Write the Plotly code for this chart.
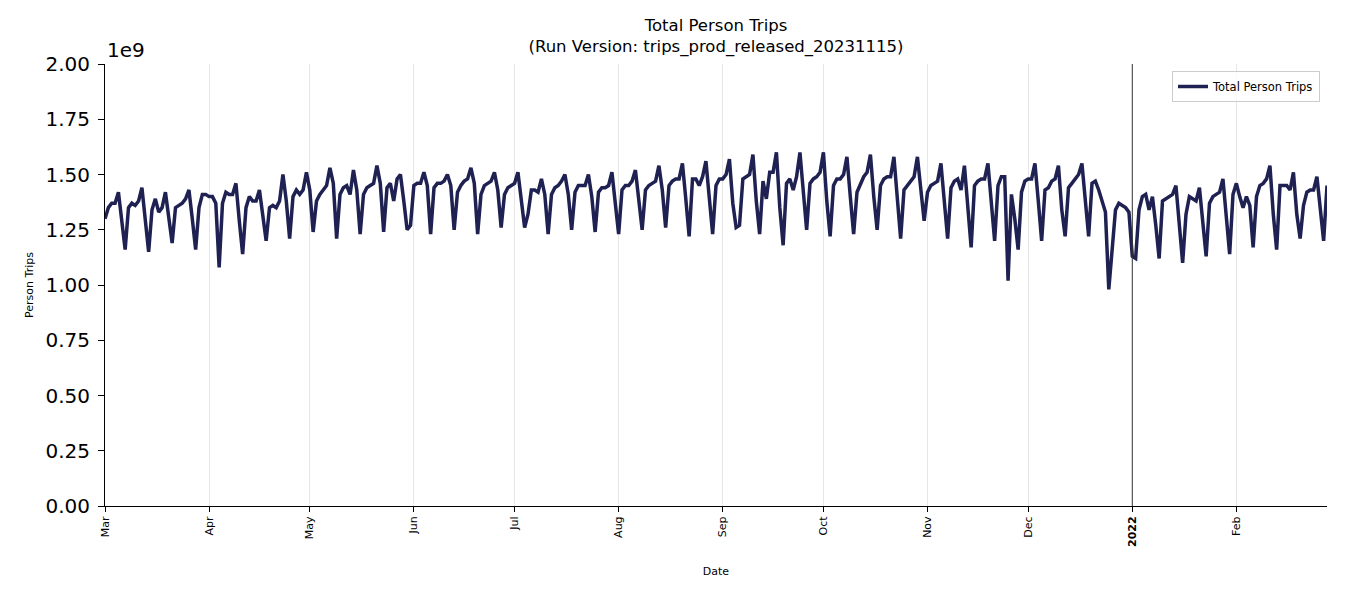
import pandas as pd
import plotly.graph_objects as go

# Daily Total Person Trips (in billions), Mar 2021 - Feb 2022
mar_2021 = [1.30, 1.35, 1.37, 1.37, 1.42, 1.30, 1.16, 1.35, 1.37, 1.36, 1.38, 1.44, 1.30, 1.15,
            1.34, 1.39, 1.33, 1.35, 1.42, 1.31, 1.19, 1.35, 1.36, 1.37, 1.39, 1.43, 1.30, 1.16,
            1.35, 1.41, 1.41]
apr_2021 = [1.40, 1.40, 1.37, 1.08, 1.37, 1.42, 1.41, 1.41, 1.46, 1.29, 1.14, 1.35, 1.40, 1.38,
            1.38, 1.43, 1.32, 1.20, 1.35, 1.36, 1.35, 1.38, 1.50, 1.38, 1.21, 1.40, 1.43, 1.41,
            1.43, 1.51]
may_2021 = [1.43, 1.24, 1.38, 1.41, 1.43, 1.45, 1.53, 1.46, 1.21, 1.41, 1.44, 1.45, 1.41, 1.52,
            1.43, 1.23, 1.41, 1.44, 1.45, 1.46, 1.54, 1.46, 1.24, 1.44, 1.46, 1.38, 1.48, 1.50,
            1.38, 1.25, 1.27]
jun_2021 = [1.45, 1.46, 1.46, 1.51, 1.45, 1.23, 1.44, 1.46, 1.46, 1.47, 1.50, 1.45, 1.25, 1.42,
            1.45, 1.47, 1.48, 1.53, 1.46, 1.23, 1.41, 1.45, 1.46, 1.47, 1.51, 1.43, 1.26, 1.41,
            1.44, 1.45]
jul_2021 = [1.46, 1.51, 1.38, 1.26, 1.32, 1.43, 1.43, 1.42, 1.48, 1.41, 1.23, 1.41, 1.44, 1.45,
            1.47, 1.50, 1.41, 1.25, 1.42, 1.45, 1.45, 1.45, 1.50, 1.40, 1.24, 1.42, 1.44, 1.44,
            1.45, 1.51, 1.37]
aug_2021 = [1.23, 1.43, 1.45, 1.45, 1.47, 1.52, 1.40, 1.25, 1.43, 1.45, 1.46, 1.47, 1.54, 1.43,
            1.26, 1.45, 1.47, 1.48, 1.48, 1.55, 1.39, 1.22, 1.48, 1.48, 1.45, 1.49, 1.56, 1.38,
            1.23, 1.45, 1.48]
sep_2021 = [1.48, 1.50, 1.57, 1.37, 1.26, 1.27, 1.48, 1.49, 1.50, 1.59, 1.38, 1.23, 1.47, 1.39,
            1.51, 1.51, 1.60, 1.35, 1.18, 1.46, 1.48, 1.43, 1.49, 1.60, 1.43, 1.25, 1.46, 1.48,
            1.49, 1.51]
oct_2021 = [1.60, 1.38, 1.22, 1.45, 1.48, 1.48, 1.50, 1.58, 1.40, 1.23, 1.42, 1.46, 1.49, 1.51,
            1.59, 1.40, 1.25, 1.45, 1.48, 1.49, 1.49, 1.58, 1.38, 1.21, 1.43, 1.45, 1.47, 1.49,
            1.58, 1.42, 1.29]
nov_2021 = [1.42, 1.45, 1.46, 1.47, 1.55, 1.36, 1.21, 1.44, 1.47, 1.48, 1.43, 1.54, 1.33, 1.17,
            1.45, 1.47, 1.48, 1.48, 1.55, 1.36, 1.20, 1.45, 1.49, 1.49, 1.02, 1.41, 1.30, 1.16,
            1.42, 1.47]
dec_2021 = [1.48, 1.48, 1.55, 1.38, 1.20, 1.43, 1.44, 1.47, 1.48, 1.54, 1.34, 1.22, 1.44, 1.46,
            1.48, 1.50, 1.55, 1.36, 1.22, 1.46, 1.47, 1.43, 1.38, 1.33, 0.98, 1.17, 1.34, 1.37,
            1.36, 1.35, 1.33]
jan_2022 = [1.13, 1.12, 1.34, 1.40, 1.41, 1.34, 1.40, 1.27, 1.12, 1.38, 1.39, 1.40, 1.41, 1.45,
            1.27, 1.10, 1.32, 1.40, 1.39, 1.38, 1.44, 1.29, 1.13, 1.37, 1.40, 1.41, 1.42, 1.48,
            1.30, 1.14, 1.41]
feb_2022 = [1.46, 1.40, 1.35, 1.40, 1.36, 1.17, 1.40, 1.45, 1.46, 1.48, 1.54, 1.32, 1.16, 1.45,
            1.45, 1.45, 1.43, 1.51, 1.32, 1.21, 1.36, 1.42, 1.43, 1.43, 1.49, 1.33, 1.20, 1.45]

trips_billions = (mar_2021 + apr_2021 + may_2021 + jun_2021 + jul_2021 + aug_2021 +
                  sep_2021 + oct_2021 + nov_2021 + dec_2021 + jan_2022 + feb_2022)
dates = pd.date_range("2021-03-01", periods=len(trips_billions), freq="D")
trips = [v * 1e9 for v in trips_billions]

month_ticks = ["2021-03-01", "2021-04-01", "2021-05-01", "2021-06-01", "2021-07-01",
               "2021-08-01", "2021-09-01", "2021-10-01", "2021-11-01", "2021-12-01",
               "2022-01-01", "2022-02-01"]
month_labels = ["Mar", "Apr", "May", "Jun", "Jul", "Aug", "Sep", "Oct", "Nov", "Dec",
                "<b>2022</b>", "Feb"]
y_tick_vals = [0, 0.25e9, 0.5e9, 0.75e9, 1.0e9, 1.25e9, 1.5e9, 1.75e9, 2.0e9]
y_tick_text = ["0.00", "0.25", "0.50", "0.75", "1.00", "1.25", "1.50", "1.75", "2.00"]

FONT = "DejaVu Sans"
LINE_COLOR = "#1e2151"

# page body has an 8px default margin; size the figure to fill the rest of the window
FIG_W, FIG_H = 1342, 592
ML, MR, MT, MB = 97, 23, 56, 94

fig = go.Figure()
fig.add_trace(go.Scatter(
    x=dates, y=trips, mode="lines", name="Total Person Trips",
    line=dict(color=LINE_COLOR, width=3.5),
))

fig.update_layout(
    width=FIG_W, height=FIG_H,
    paper_bgcolor="white", plot_bgcolor="white",
    margin=dict(l=ML, r=MR, t=MT, b=MB),
    font=dict(family=FONT, color="black"),
    title=dict(
        text="Total Person Trips<br>(Run Version: trips_prod_released_20231115)",
        x=708 / FIG_W, xanchor="center",
        y=1 - 23 / FIG_H, yanchor="top",
        font=dict(size=16.5, family=FONT, color="black"),
    ),
    showlegend=True,
    legend=dict(
        x=1 - 7 / (FIG_W - ML - MR), xanchor="right",
        y=1 - 7 / (FIG_H - MT - MB), yanchor="top",
        bordercolor="#cccccc", borderwidth=1, bgcolor="rgba(255,255,255,0.8)",
        font=dict(size=11.5, family=FONT, color="black"),
        itemwidth=30,
    ),
)

fig.update_xaxes(
    range=[dates[0], dates[-1]],
    tickmode="array", tickvals=month_ticks, ticktext=month_labels,
    tickangle=-90, tickfont=dict(size=11, family=FONT, color="black"),
    ticks="outside", ticklen=5, tickcolor="black",
    showgrid=True, gridcolor="#e6e6e6", gridwidth=1,
    showline=True, linecolor="black", linewidth=1,
    zeroline=False,
    title=dict(text="Date", font=dict(size=11, family=FONT, color="black"), standoff=21),
)
fig.update_yaxes(
    range=[0, 2e9],
    tickmode="array", tickvals=y_tick_vals, ticktext=y_tick_text,
    tickfont=dict(size=20, family=FONT, color="black"),
    ticks="outside", ticklen=6, tickcolor="black", ticklabelstandoff=4,
    showgrid=False, zeroline=False,
    showline=True, linecolor="black", linewidth=1,
    title=dict(text="Person Trips", font=dict(size=11, family=FONT, color="black"), standoff=9),
)

# vertical marker at the new year
fig.add_shape(type="line", x0="2022-01-01", x1="2022-01-01", xref="x",
              y0=0, y1=1, yref="paper", line=dict(color="#333333", width=1))

# scientific offset label
fig.add_annotation(text="1e9", xref="paper", yref="paper", x=0, y=1.0,
                   xanchor="left", yanchor="bottom", showarrow=False,
                   font=dict(size=20, family=FONT, color="black"))

fig.write_html("out.html")
